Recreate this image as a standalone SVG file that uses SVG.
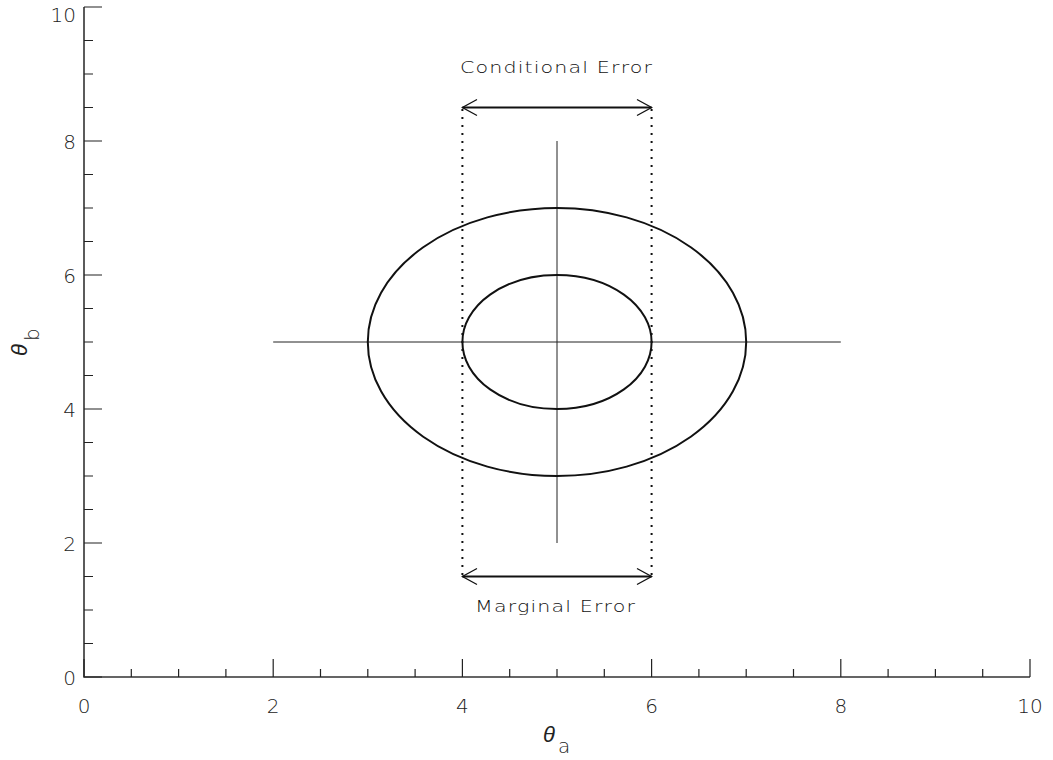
<svg xmlns="http://www.w3.org/2000/svg" width="1053" height="760" viewBox="0 0 1053 760">
<defs>
<style>
.ax{stroke:#333;stroke-width:1.6;fill:none}
.tk{stroke:#222;stroke-width:1.2;fill:none}
.lbl{font-family:"DejaVu Sans","Liberation Sans",sans-serif;font-size:20px;fill:#222;font-weight:200}
.ann{font-family:"DejaVu Sans","Liberation Sans",sans-serif;font-size:16.5px;fill:#111;font-weight:200}
.th{font-family:"Liberation Sans",sans-serif;font-size:22px;fill:#222;font-style:italic}
.sub{font-family:"DejaVu Sans",sans-serif;font-size:20px;font-style:normal;font-weight:200}
.ell{stroke:#111;stroke-width:2;fill:none}
.thin{stroke:#222;stroke-width:1;fill:none}
.dot{stroke:#111;stroke-width:2;fill:none;stroke-dasharray:2 6}
.arr{stroke:#111;stroke-width:2;fill:none}
.ah{stroke:#111;stroke-width:1.3;fill:none}
</style>
</defs>
<rect width="1053" height="760" fill="#fff"/>
<g id="axes">
<path class="ax" d="M84,7 V677 H1030"/>
<path class="tk" d="M84,7H102 M84,141H102 M84,275H102 M84,409H102 M84,543H102 M84,677H102
M84,40.5H93 M84,74H93 M84,107.5H93 M84,174.5H93 M84,208H93 M84,241.5H93 M84,308.5H93 M84,342H93 M84,375.5H93 M84,442.5H93 M84,476H93 M84,509.5H93 M84,576.5H93 M84,610H93 M84,643.5H93
M84,677V659 M273.2,677V659 M462.4,677V659 M651.6,677V659 M840.8,677V659 M1030,677V659
M131.3,677V669 M178.6,677V669 M225.9,677V669 M320.5,677V669 M367.8,677V669 M415.1,677V669 M509.7,677V669 M557,677V669 M604.3,677V669 M698.9,677V669 M746.2,677V669 M793.5,677V669 M888.1,677V669 M935.4,677V669 M982.7,677V669"/>
<g class="lbl" text-anchor="end">
<text x="76" y="22">10</text>
<text x="76" y="149">8</text>
<text x="76" y="283">6</text>
<text x="76" y="417">4</text>
<text x="76" y="551">2</text>
<text x="76" y="685">0</text>
</g>
<g class="lbl" text-anchor="middle">
<text x="84" y="713">0</text>
<text x="273.2" y="713">2</text>
<text x="462.4" y="713">4</text>
<text x="651.6" y="713">6</text>
<text x="840.8" y="713">8</text>
<text x="1030" y="713">10</text>
</g>
<text class="th" x="543" y="742">θ<tspan class="sub" dx="3" dy="11">a</tspan></text>
<text class="th" transform="translate(27,356) rotate(-90)">θ<tspan class="sub" dx="3" dy="12">b</tspan></text>
</g>
<g id="crosshair">
<path class="thin" d="M273.2,342H840.8 M557,141V543"/>
</g>
<g id="outer-ellipse"><ellipse class="ell" cx="557" cy="342" rx="189.2" ry="134"/></g>
<g id="inner-ellipse"><ellipse class="ell" cx="557" cy="342" rx="94.6" ry="67"/></g>
<g id="connectors">
<path class="dot" d="M462.4,109V577 M651.6,109V577"/>
<path class="arr" d="M462.4,107.5H651.6 M462.4,576.5H651.6"/>
<path class="ah" d="M477,99.5L462.4,107.5L477,115.5 M637,99.5L651.6,107.5L637,115.5 M477,568.5L462.4,576.5L477,584.5 M637,568.5L651.6,576.5L637,584.5"/>
</g>
<g id="label-conditional"><text class="ann" transform="translate(460,73) scale(1.25,1)" textLength="153.6" lengthAdjust="spacing">Conditional Error</text></g>
<g id="label-marginal"><text class="ann" transform="translate(475,612) scale(1.25,1)" textLength="128" lengthAdjust="spacing">Marginal Error</text></g>
</svg>
